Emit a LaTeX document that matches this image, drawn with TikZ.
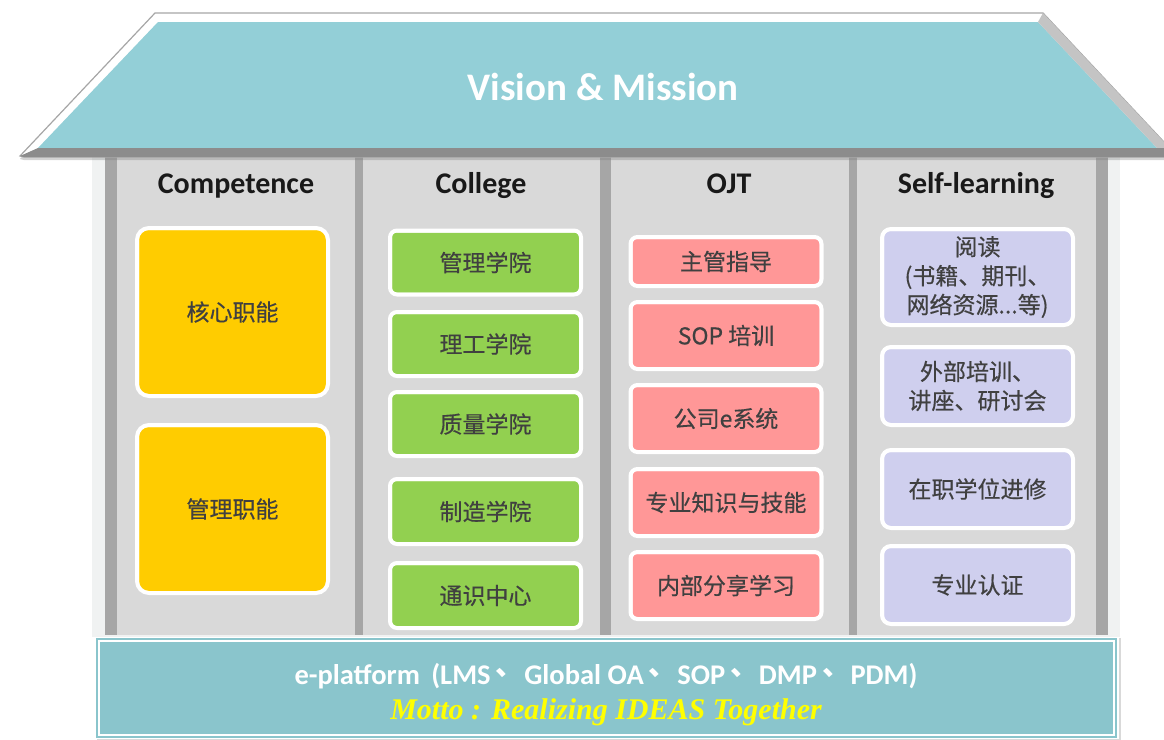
\documentclass[tikz,border=0pt]{standalone}
\usepackage{fontspec}
\setmainfont{Carlito}
\newfontfamily\cjk{Noto Sans CJK SC}
\newfontfamily\cjkb{Noto Sans CJK SC}[FakeBold=0.5]
\newfontfamily\mottofont{Liberation Serif}
\usetikzlibrary{shadows}
\definecolor{roofteal}{HTML}{93CFD7}
\definecolor{platteal}{HTML}{8AC5CC}
\definecolor{colgray}{HTML}{D9D9D9}
\definecolor{pillar}{HTML}{A6A6A6}
\definecolor{bandgray}{HTML}{8C8C8C}
\definecolor{bevelgray}{HTML}{C4C4C4}
\definecolor{bodylight}{HTML}{F0F2F2}
\definecolor{cyellow}{HTML}{FFCC00}
\definecolor{cgreen}{HTML}{92D050}
\definecolor{cpink}{HTML}{FF9797}
\definecolor{cpurple}{HTML}{CFCFEE}
\definecolor{boxtext}{HTML}{404040}
\definecolor{mottoyellow}{HTML}{FFFF00}
\newcommand\dunhao{\hspace{0.18em}{\cjk\raisebox{0.3em}{、}}}
\tikzset{
  card/.style={draw=white, line width=4pt, minimum width=191pt, text=boxtext,
    font=\cjkb\fontsize{23}{29}\selectfont, align=center, inner sep=0pt},
  cardline/.style={draw=white, line width=0.8pt},
  ycard/.style={fill=cyellow, rounded corners=12pt},
  gcard/.style={fill=cgreen, rounded corners=7pt},
  pcard/.style={fill=cpink, rounded corners=7pt},
  vcard/.style={fill=cpurple, rounded corners=9pt},
  header/.style={font=\bfseries\fontsize{30}{32}\selectfont, text=black!90, anchor=base, inner sep=0pt},
}
\newcommand\mkcard[7]{%
  \node[card,#5,minimum height=#4pt] (#1) at (#2,#3) {#7};
  \draw[cardline,rounded corners=#6pt] ([shift={(3.6pt,-3.6pt)}]#1.north west) rectangle ([shift={(-3.6pt,3.6pt)}]#1.south east);
}
\begin{document}
\begin{tikzpicture}[x=1pt,y=-1pt]
\useasboundingbox (0,0) rectangle (1164,739);
% house body
\fill[bodylight] (92,157) rectangle (1120,637);
\fill[colgray] (105,157) rectangle (1108,635);
\foreach \a/\b in {105/117,355/363,600/611,849/857,1096/1108}
  \fill[pillar] (\a,157) rectangle (\b,635);
% roof
\fill[white, draw=black!35, line width=1.2pt, drop shadow={shadow xshift=0pt, shadow yshift=-3pt, opacity=.35}]
  (20,156) -- (155,13) -- (1043,13) -- (1164,142) -- (1164,157) -- (24,157) -- cycle;
\fill[roofteal] (38,148) -- (158,22) -- (1038,22) -- (1157,148) -- cycle;
\fill[bevelgray] (1038,22) -- (1043,13) -- (1164,142) -- (1164,148) -- (1157,148) -- cycle;
\fill[bandgray] (20,156) -- (38,148) -- (1164,148) -- (1164,157) -- (24,157) -- cycle;
\node[font=\bfseries\fontsize{39}{41}\selectfont, text=white, anchor=base, inner sep=0pt] (vision) at (603,100) {Vision \& Mission};
% headers
\node[header] (hcomp) at (236,193) {Competence};
\node[header] (hcoll) at (481,193) {College};
\node[header] (hojt) at (729,193) {OJT};
\node[header] (hself) at (976,193) {Self-learning};
% competence
\mkcard{y1}{232.5}{312}{168}{ycard}{9}{核心职能}
\mkcard{y2}{232.5}{509}{168}{ycard}{9}{管理职能}
% college
\mkcard{g1}{485.5}{262.5}{64}{gcard}{4}{管理学院}
\mkcard{g2}{485.5}{344}{64}{gcard}{4}{理工学院}
\mkcard{g3}{485.5}{424}{64}{gcard}{4}{质量学院}
\mkcard{g4}{485.5}{511.5}{65}{gcard}{4}{制造学院}
\mkcard{g5}{485.5}{595.5}{65}{gcard}{4}{通识中心}
% OJT
\mkcard{p1}{726}{261.5}{49}{pcard}{4}{主管指导}
\mkcard{p2}{726}{335.5}{67}{pcard}{4}{SOP 培训}
\mkcard{p3}{726}{418.5}{67}{pcard}{4}{公司e系统}
\mkcard{p4}{726}{502.5}{67}{pcard}{4}{专业知识与技能}
\mkcard{p5}{726}{585.5}{67}{pcard}{4}{内部分享学习}
% self-learning
\mkcard{v1}{977.5}{277}{96}{vcard}{6}{阅读\\(书籍、期刊、\\网络资源...等)}
\mkcard{v2}{977.5}{386}{78}{vcard}{6}{外部培训、\\讲座、研讨会}
\mkcard{v3}{977.5}{489}{78}{vcard}{6}{在职学位进修}
\mkcard{v4}{977.5}{585}{78}{vcard}{6}{专业认证}
% platform
\fill[white, drop shadow={shadow xshift=2pt, shadow yshift=-1pt, opacity=.3}] (95,637) rectangle (1119,739);
\fill[platteal] (96,638) rectangle (1117,738);
\draw[white, line width=1.2pt] (99,641) rectangle (1114,735);
\node[font=\bfseries\fontsize{28.5}{31}\selectfont, text=white, anchor=base, inner sep=0pt] (eplat) at (606,684)
  {e-platform\hspace{0.4em}(LMS\dunhao Global OA\dunhao SOP\dunhao DMP\dunhao PDM)};
\node[font=\mottofont\bfseries\itshape\fontsize{30}{32}\selectfont, text=mottoyellow, anchor=base, inner sep=0pt] (motto) at (606,719)
  {Motto : Realizing IDEAS Together};
\end{tikzpicture}
\end{document}
